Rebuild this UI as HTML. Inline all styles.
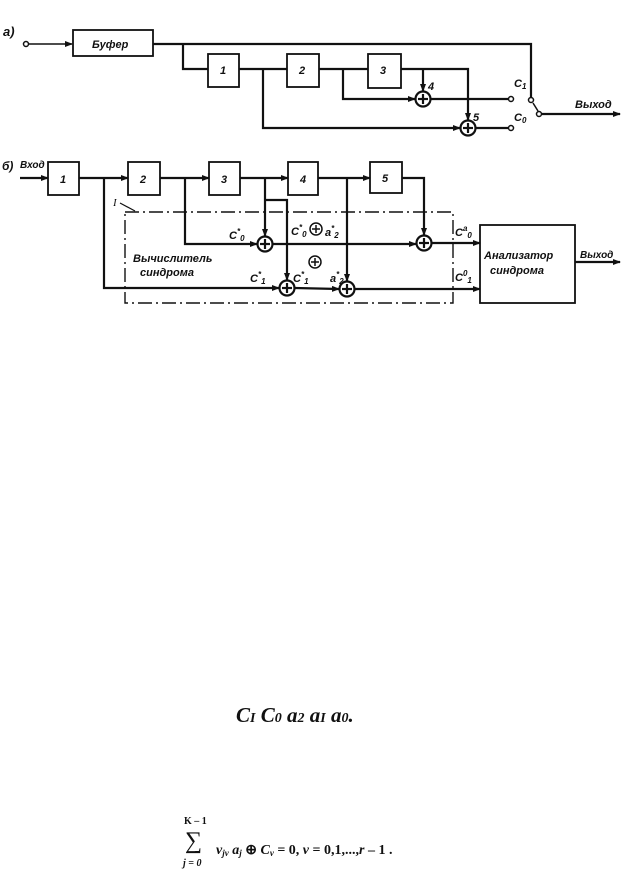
<!DOCTYPE html>
<html><head><meta charset="utf-8"><style>
html,body{margin:0;padding:0;background:#fff}
svg{display:block}
text{font-family:"Liberation Sans",sans-serif;font-style:italic;font-weight:bold;fill:#111}
text.serif, .serif text{font-family:"Liberation Serif",serif}
</style></head><body>
<svg width="624" height="883" viewBox="0 0 624 883" xmlns="http://www.w3.org/2000/svg">
<defs>
<marker id="ar" markerWidth="8" markerHeight="6" refX="7" refY="3" orient="auto" markerUnits="userSpaceOnUse">
<path d="M0,0 L8,3 L0,6 Z" fill="#111"/></marker>
</defs>
<g stroke="#111" stroke-width="2.2" fill="none">
<!-- panel a -->
<circle cx="26" cy="44" r="2.5" stroke-width="1.5"/>
<line x1="29" y1="44" x2="72" y2="44" stroke-width="1.5" marker-end="url(#ar)"/>
<rect x="73" y="30" width="80" height="26" stroke-width="1.8"/>
<polyline points="153,44 531,44 531,97"/>
<polyline points="183,44 183,69 208,69"/>
<rect x="208" y="54" width="31" height="33" stroke-width="1.8"/>
<line x1="239" y1="69" x2="287" y2="69"/>
<polyline points="263,69 263,128 460,128" marker-end="url(#ar)"/>
<rect x="287" y="54" width="32" height="33" stroke-width="1.8"/>
<line x1="319" y1="69" x2="368" y2="69"/>
<polyline points="343,69 343,99 415,99" marker-end="url(#ar)"/>
<rect x="368" y="54" width="33" height="34" stroke-width="1.8"/>
<polyline points="401,69 468,69 468,120" marker-end="url(#ar)"/>
<line x1="423" y1="69" x2="423" y2="91" marker-end="url(#ar)"/>
<circle cx="423" cy="99" r="7.5"/>
<line x1="418" y1="99" x2="428" y2="99"/><line x1="423" y1="94" x2="423" y2="104"/>
<line x1="431" y1="99" x2="508" y2="99"/>
<circle cx="468" cy="128" r="7.5"/>
<line x1="463" y1="128" x2="473" y2="128"/><line x1="468" y1="123" x2="468" y2="133"/>
<line x1="476" y1="128" x2="508" y2="128"/>
<circle cx="511" cy="99" r="2.5" stroke-width="1.5"/>
<circle cx="511" cy="128" r="2.5" stroke-width="1.5"/>
<circle cx="531" cy="100" r="2.5" stroke-width="1.5"/>
<circle cx="539" cy="114" r="2.5" stroke-width="1.5"/>
<line x1="533" y1="103" x2="538" y2="111" stroke-width="1.5"/>
<line x1="542" y1="114" x2="620" y2="114" marker-end="url(#ar)"/>

<!-- panel b -->
<line x1="20" y1="178" x2="48" y2="178" marker-end="url(#ar)"/>
<rect x="48" y="162" width="31" height="33" stroke-width="1.8"/>
<line x1="79" y1="178" x2="128" y2="178" marker-end="url(#ar)"/>
<rect x="128" y="162" width="32" height="33" stroke-width="1.8"/>
<line x1="160" y1="178" x2="209" y2="178" marker-end="url(#ar)"/>
<rect x="209" y="162" width="31" height="33" stroke-width="1.8"/>
<line x1="240" y1="178" x2="288" y2="178" marker-end="url(#ar)"/>
<rect x="288" y="162" width="30" height="33" stroke-width="1.8"/>
<line x1="318" y1="178" x2="370" y2="178" marker-end="url(#ar)"/>
<rect x="370" y="162" width="32" height="31" stroke-width="1.8"/>
<polyline points="104,178 104,288 279,288" marker-end="url(#ar)"/>
<polyline points="185,178 185,244 257,244" marker-end="url(#ar)"/>
<line x1="265" y1="178" x2="265" y2="236" marker-end="url(#ar)"/>
<polyline points="265,200 287,200 287,280" marker-end="url(#ar)"/>
<line x1="347" y1="178" x2="347" y2="281" marker-end="url(#ar)"/>
<polyline points="402,178 424,178 424,235" marker-end="url(#ar)"/>
<circle cx="265" cy="244" r="7.5"/><line x1="260" y1="244" x2="270" y2="244"/><line x1="265" y1="239" x2="265" y2="249"/>
<circle cx="287" cy="288" r="7.5"/><line x1="282" y1="288" x2="292" y2="288"/><line x1="287" y1="283" x2="287" y2="293"/>
<circle cx="347" cy="289" r="7.5"/><line x1="342" y1="289" x2="352" y2="289"/><line x1="347" y1="284" x2="347" y2="294"/>
<circle cx="424" cy="243" r="7.5"/><line x1="419" y1="243" x2="429" y2="243"/><line x1="424" y1="238" x2="424" y2="248"/>
<line x1="273" y1="244" x2="416" y2="244" marker-end="url(#ar)"/>
<line x1="432" y1="243" x2="480" y2="243" marker-end="url(#ar)"/>
<line x1="295" y1="288" x2="339" y2="289" marker-end="url(#ar)"/>
<line x1="355" y1="289" x2="480" y2="289" marker-end="url(#ar)"/>
<rect x="480" y="225" width="95" height="78" stroke-width="1.8"/>
<line x1="575" y1="262" x2="620" y2="262" marker-end="url(#ar)"/>
<circle cx="316" cy="229" r="6" stroke-width="1.5"/><line x1="312" y1="229" x2="320" y2="229" stroke-width="1.5"/><line x1="316" y1="225" x2="316" y2="233" stroke-width="1.5"/>
<circle cx="315" cy="262" r="6" stroke-width="1.5"/><line x1="311" y1="262" x2="319" y2="262" stroke-width="1.5"/><line x1="315" y1="258" x2="315" y2="266" stroke-width="1.5"/>
<rect x="125" y="212" width="328" height="91" stroke-width="1.4" stroke-dasharray="14,4,2,4"/>
<line x1="120" y1="203" x2="135" y2="211" stroke-width="1.2"/>
</g>
<g font-size="11">
<text x="3" y="36" font-size="13">а)</text>
<text x="92" y="48">Буфер</text>
<text x="220" y="74">1</text>
<text x="299" y="74">2</text>
<text x="380" y="74">3</text>
<text x="428" y="90">4</text>
<text x="473" y="121">5</text>
<text x="514" y="87">C<tspan font-size="8" dy="2">1</tspan></text>
<text x="514" y="121">C<tspan font-size="8" dy="2">0</tspan></text>
<text x="575" y="108">Выход</text>

<text x="2" y="170" font-size="12">б)</text>
<text x="20" y="168" font-size="10">Вход</text>
<text x="60" y="183">1</text>
<text x="140" y="183">2</text>
<text x="221" y="183">3</text>
<text x="300" y="183">4</text>
<text x="382" y="182">5</text>
<text x="113" y="206" style="font-family:'Liberation Serif',serif;font-weight:normal">I</text>
<text x="229" y="239">C<tspan font-size="8" dy="-5">*</tspan><tspan font-size="8" dy="7">0</tspan></text>
<text x="291" y="235">C<tspan font-size="8" dy="-5">*</tspan><tspan font-size="8" dy="7">0</tspan></text>
<text x="325" y="236">a<tspan font-size="8" dy="-5">*</tspan><tspan font-size="8" dy="7">2</tspan></text>
<text x="250" y="282">C<tspan font-size="8" dy="-5">*</tspan><tspan font-size="8" dy="7">1</tspan></text>
<text x="293" y="282">C<tspan font-size="8" dy="-5">*</tspan><tspan font-size="8" dy="7">1</tspan></text>
<text x="330" y="282">a<tspan font-size="8" dy="-5">*</tspan><tspan font-size="8" dy="7">2</tspan></text>
<text x="455" y="236">C<tspan font-size="8" dy="-5">a</tspan><tspan font-size="8" dy="7">0</tspan></text>
<text x="455" y="281">C<tspan font-size="8" dy="-5">0</tspan><tspan font-size="8" dy="7">1</tspan></text>
<text x="133" y="262">Вычислитель</text>
<text x="140" y="276">синдрома</text>
<text x="484" y="259">Анализатор</text>
<text x="490" y="274">синдрома</text>
<text x="580" y="258" font-size="10">Выход</text>
</g>
<text x="236" y="722" font-size="21" style="font-family:'Liberation Serif',serif">C<tspan font-size="14">I</tspan> C<tspan font-size="14">0</tspan> a<tspan font-size="14">2</tspan> a<tspan font-size="14">I</tspan> a<tspan font-size="14">0</tspan>.</text>
<text x="184" y="824" font-size="10" style="font-family:'Liberation Serif',serif;font-style:normal">K – 1</text>
<text x="185" y="848" font-size="24" style="font-family:'Liberation Serif',serif;font-style:normal;font-weight:normal">∑</text>
<text x="183" y="866" font-size="10" style="font-family:'Liberation Serif',serif">j = 0</text>
<text x="216" y="854" font-size="14" style="font-family:'Liberation Serif',serif">v<tspan font-size="9" dy="2">jv</tspan><tspan dy="-2"> a</tspan><tspan font-size="9" dy="2">j</tspan><tspan dy="-2" style="font-style:normal">  ⊕ </tspan>C<tspan font-size="9" dy="2">v</tspan><tspan dy="-2" style="font-style:normal"> = 0,   </tspan>v<tspan style="font-style:normal"> = 0,1,...,</tspan>r<tspan style="font-style:normal"> – 1 .</tspan></text>
</svg>
</body></html>
